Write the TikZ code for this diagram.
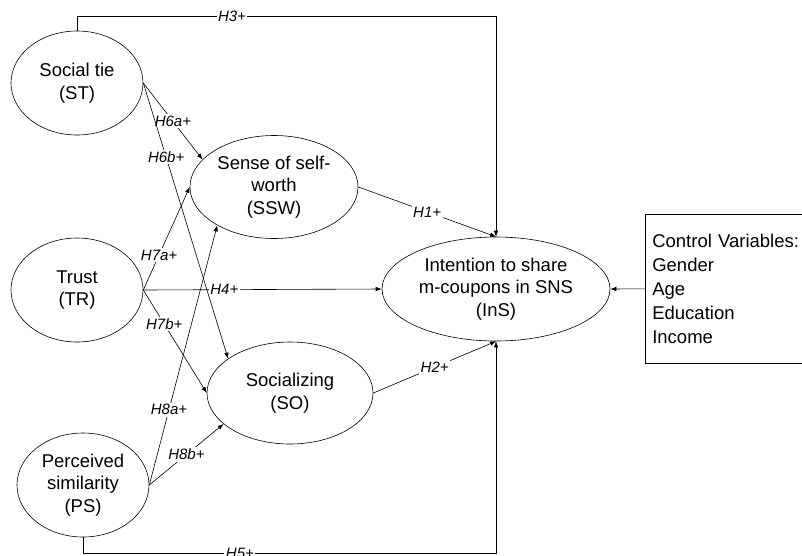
\documentclass[tikz,border=0pt]{standalone}
\usepackage{fontspec}
\setmainfont{Liberation Sans}
\usetikzlibrary{shapes.geometric, positioning, arrows.meta}
\tikzset{
  construct/.style={ellipse, draw=black, line width=0.6pt, inner sep=0pt, align=center, font=\fontsize{18.5}{22.5}\selectfont},
  hyp/.style={fill=white, inner sep=1.5pt, font=\fontsize{15}{18}\selectfont\itshape},
  arrow/.style={line width=0.6pt, -{Latex[length=6pt, width=4.5pt]}},
  controlbox/.style={draw=black, line width=0.6pt, anchor=north west, align=left, text width=150pt, minimum height=149pt, inner xsep=7pt, font=\fontsize{18.5}{24.2}\selectfont}
}

\begin{document}
\begin{tikzpicture}[x=1pt, y=-1pt]
    \useasboundingbox (0,0) rectangle (802,555);

    % 1. Constructos
    \node[construct, minimum width=132pt, minimum height=104pt] (ST) at (77,83) {Social tie\\(ST)};
    \node[construct, minimum width=132pt, minimum height=104pt] (TR) at (77,290) {Trust\\(TR)};
    \node[construct, minimum width=132pt, minimum height=104pt] (PS) at (83,485) {Perceived\\similarity\\(PS)};
    \node[construct, minimum width=168pt, minimum height=103pt] (SSW) at (274,187) {Sense of self-\\worth\\(SSW)};
    \node[construct, minimum width=166pt, minimum height=102pt] (SO) at (290,393) {Socializing\\(SO)};
    \node[construct, minimum width=228pt, minimum height=104pt] (InS) at (496,289) {Intention to share\\m-coupons in SNS\\(InS)};

    % 2. Variables de control
    \node[controlbox] (CV) at (645,214) {Control Variables:\\Gender\\Age\\Education\\Income};
    \draw[arrow] (CV.west) -- (InS.east);

    % 3. Hipotesis directas
    \coordinate (topRun) at (0,16);
    \coordinate (botRun) at (0,553);
    \draw[arrow] (SSW.east) -- node[hyp]{H1+} (InS.north);
    \draw[arrow] (SO.east) -- node[hyp]{H2+} (InS.south);
    \draw[arrow] (ST.north) -- (ST.north |- topRun) -- node[hyp, pos=0.37]{H3+} (InS.north |- topRun) -- (InS.north);
    \draw[arrow] (TR.east) -- node[hyp, pos=0.34]{H4+} (InS.west);
    \draw[arrow] (PS.south) -- (PS.south |- botRun) -- node[hyp, pos=0.38]{H5+} (InS.south |- botRun) -- (InS.south);

    % 4. Hipotesis hacia los mediadores
    \draw[arrow] (ST.east) -- node[hyp]{H6a+} (SSW.159);
    \draw[arrow] (ST.east) -- node[hyp, pos=0.27]{H6b+} (SO.151);
    \draw[arrow] (TR.east) -- node[hyp, pos=0.34]{H7a+} (SSW.west);
    \draw[arrow] (TR.east) -- node[hyp, pos=0.33]{H7b+} (SO.west);
    \draw[arrow] (PS.east) -- node[hyp, pos=0.29]{H8a+} (SSW.214);
    \draw[arrow] (PS.east) -- node[hyp]{H8b+} (SO.205);

\end{tikzpicture}
\end{document}
